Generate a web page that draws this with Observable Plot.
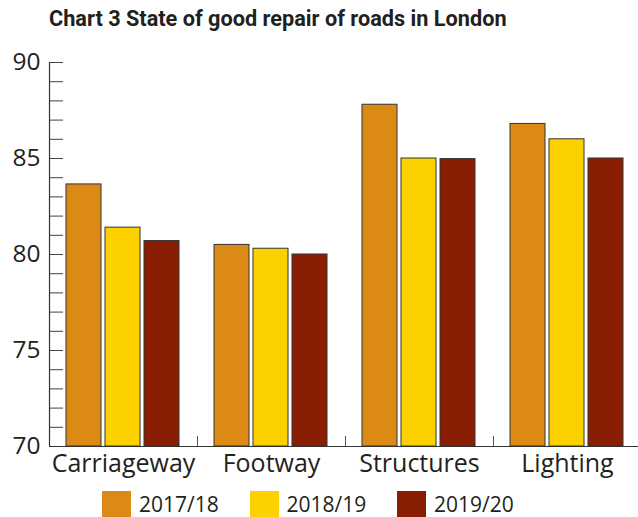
<!DOCTYPE html>
<html>
<head>
<meta charset="utf-8">
<script src="https://cdn.jsdelivr.net/npm/d3@7"></script>
<script src="https://cdn.jsdelivr.net/npm/@observablehq/plot@0.6"></script>
<style>
  body { margin: 0; background: #fff; }
  #wrap { position: relative; width: 638px; height: 517px; overflow: hidden; font-family: "Open Sans", sans-serif; color: #231f20; }
  #chart { position: absolute; left: 0; top: 0; }
  #title { position: absolute; left: 49px; top: 4px; font-family: Roboto, sans-serif; font-weight: 700; font-size: 21.7px; line-height: 30px; color: #231f20; white-space: nowrap; }
  #legend { position: absolute; left: 102px; top: 491px; display: flex; }
  .item { width: 147.5px; display: flex; align-items: flex-start; }
  .sw { width: 29px; height: 28px; flex: none; }
  .lab { margin-left: 8px; font-size: 21px; line-height: 26px; }
</style>
</head>
<body>
<div id="wrap">
  <div id="chart"></div>
  <div id="title">Chart 3 State of good repair of roads in London</div>
  <div id="legend"></div>
</div>
<script>
const categories = ["Carriageway", "Footway", "Structures", "Lighting"];
const years = ["2017/18", "2018/19", "2019/20"];
const values2017_18 = [83.65, 80.5, 87.8, 86.8];
const values2018_19 = [81.4, 80.3, 85.0, 86.0];
const values2019_20 = [80.7, 80.0, 84.97, 85.0];
const colors = ["#DC8A16", "#FDD100", "#8A1E02"];
const yDomain = [70, 90];
const yLabelTicks = [70, 75, 80, 85, 90];
const yMinorTicks = d3.range(70, 91);

const series = [values2017_18, values2018_19, values2019_20];
const data = categories.flatMap((c, i) => years.map((y, j) => ({category: c, year: y, value: series[j][i]})));

const W = 638, H = 517, mL = 49, mR = -3, mT = 62, mB = 71;
const padInner = 0.094, padOuter = 0.42;
const fxBand = (W - mL - mR) / categories.length;
const step = fxBand / (years.length - padInner + 2 * padOuter);
const edgeOffset = -(step * padOuter + step * (1 - padInner) / 2);

const chart = Plot.plot({
  width: W, height: H,
  marginTop: mT, marginBottom: mB, marginLeft: mL, marginRight: mR,
  style: {fontFamily: "'Open Sans', sans-serif", color: "#231f20", background: "transparent"},
  fx: {domain: categories, padding: 0, label: null},
  x: {domain: years, paddingInner: padInner, paddingOuter: padOuter, axis: null},
  y: {domain: yDomain, axis: null},
  color: {domain: years, range: colors},
  marks: [
    Plot.axisY({ticks: yMinorTicks, tickSize: -14, tickFormat: () => "", stroke: "#444", label: null}),
    Plot.axisY({ticks: yLabelTicks, tickSize: 0, tickPadding: 9, fontSize: 24.5, label: null}),
    Plot.axisFx({anchor: "bottom", tickSize: 0, tickPadding: 8, fontSize: 25, label: null}),
    Plot.barY(data, {fx: "category", x: "year", y1: yDomain[0], y2: "value", fill: "year", stroke: "#333", strokeWidth: 1}),
    Plot.ruleY([yDomain[0]], {stroke: "#333", strokeWidth: 1.2}),
    Plot.ruleX(categories.slice(0, 1), {fx: d => d, x: () => years[0], y1: yDomain[0], y2: yDomain[1], dx: edgeOffset, stroke: "#333", strokeWidth: 1.2}),
    Plot.ruleX(categories.slice(1), {fx: d => d, x: () => years[0], y1: yDomain[0], y2: yDomain[0] + 0.52, dx: edgeOffset, stroke: "#555", strokeWidth: 1})
  ]
});
document.getElementById("chart").appendChild(chart);

const legend = document.getElementById("legend");
years.forEach((y, i) => {
  const item = document.createElement("div");
  item.className = "item";
  item.innerHTML = `<div class="sw" style="background:${colors[i]}"></div><div class="lab">${y}</div>`;
  legend.appendChild(item);
});
</script>
</body>
</html>
